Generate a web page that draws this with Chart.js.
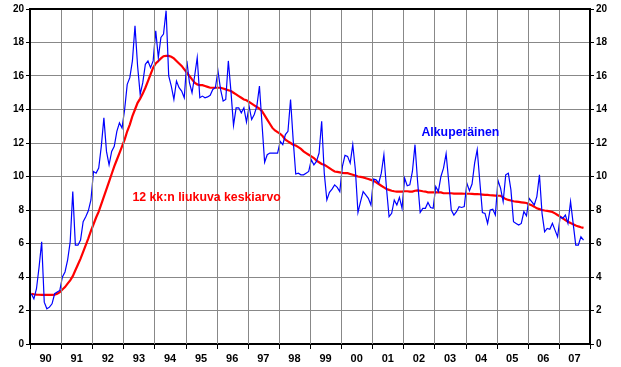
<!DOCTYPE html>
<html>
<head>
<meta charset="utf-8">
<script src="https://cdn.jsdelivr.net/npm/chart.js@4"></script>
<style>
  html, body { margin: 0; padding: 0; background: #fff; }
  #wrap { width: 621px; height: 367px; }
</style>
</head>
<body>
<div id="wrap"><canvas id="chart" width="621" height="367"></canvas></div>
<script>
// year labels on the x axis, one per 12 months
const years = ['90', '91', '92', '93', '94', '95', '96', '97', '98', '99',
  '00', '01', '02', '03', '04', '05', '06', '07'];

// monthly values Jan 1990 .. Oct 2007
const original = [
  3.0, 2.7, 3.3, 4.6, 6.1, 2.5, 2.1, 2.2, 2.4, 3.0, 3.1, 3.2,
  4.0, 4.3, 5.0, 6.1, 9.1, 5.9, 5.9, 6.2, 7.3, 7.6, 7.95, 8.6,
  10.3, 10.2, 10.5, 11.8, 13.5, 11.5, 10.7, 11.5, 11.8, 12.7, 13.2, 12.9,
  14.0, 15.5, 15.9, 16.9, 19.0, 16.6, 14.9, 15.6, 16.7, 16.9, 16.5, 16.9,
  18.7, 17.1, 18.3, 18.5, 19.9, 16.0, 15.4, 14.6, 15.7, 15.3, 15.1, 14.7,
  16.9, 15.6, 15.0, 16.0, 17.1, 14.7, 14.8, 14.7, 14.75, 14.85, 15.2, 15.3,
  16.3, 15.2, 14.5, 14.6, 16.9, 15.1, 13.05, 14.1, 14.1, 13.8, 14.1, 13.25,
  14.2, 13.4, 13.7, 14.2, 15.4, 13.1, 10.85, 11.3, 11.4, 11.4, 11.4, 11.4,
  12.1, 11.9, 12.5, 12.7, 14.6, 12.2, 10.15, 10.2, 10.1, 10.1, 10.2, 10.3,
  11.0, 10.7, 10.9, 11.4, 13.3, 10.2, 8.6, 9.05, 9.25, 9.5, 9.35, 9.1,
  10.6, 11.26, 11.2, 10.8, 11.9, 10.4, 7.85, 8.5, 9.1, 8.9, 8.7, 8.3,
  9.85, 9.8, 9.6, 10.2, 11.3, 9.3, 7.6, 7.8, 8.6, 8.3, 8.75, 8.1,
  9.9, 9.45, 9.5, 10.3, 11.9, 9.7, 7.85, 8.1, 8.1, 8.45, 8.15, 8.1,
  9.4, 9.1, 10.0, 10.5, 11.36, 9.7, 8.0, 7.7, 7.9, 8.2, 8.15, 8.2,
  9.6, 9.15, 9.55, 10.8, 11.6, 9.7, 7.85, 7.8, 7.2, 8.0, 8.05, 7.7,
  9.77, 9.3, 8.5, 10.1, 10.2, 9.2, 7.3, 7.2, 7.1, 7.2, 7.9, 7.65,
  8.7, 8.5, 8.3, 8.8, 10.1, 7.8, 6.7, 6.9, 6.85, 7.2, 6.8, 6.4,
  7.6, 7.5, 7.7, 7.2, 8.5, 7.2, 5.9, 5.9, 6.4, 6.2
];

// 12 month moving average
const movingAvg = [
  3.0, 2.97, 2.95, 2.94, 2.93, 2.93, 2.93, 2.93, 2.93, 2.95, 3.0, 3.1,
  3.25, 3.4, 3.6, 3.8, 4.05, 4.4, 4.75, 5.1, 5.5, 5.9, 6.3, 6.75,
  7.15, 7.55, 7.9, 8.35, 8.8, 9.25, 9.7, 10.15, 10.6, 11.0, 11.4, 11.8,
  12.2, 12.7, 13.1, 13.6, 14.0, 14.4, 14.65, 14.95, 15.3, 15.7, 16.1, 16.5,
  16.75, 16.9, 17.05, 17.18, 17.2, 17.2, 17.15, 17.05, 16.9, 16.75, 16.6, 16.4,
  16.2, 16.0, 15.8, 15.6, 15.5, 15.45, 15.45, 15.4, 15.35, 15.3, 15.3, 15.3,
  15.3, 15.3, 15.25, 15.2, 15.15, 15.1, 15.0, 14.9, 14.8, 14.7, 14.6, 14.55,
  14.45, 14.35, 14.25, 14.15, 14.05, 13.9, 13.65, 13.4, 13.15, 12.9, 12.75, 12.65,
  12.55, 12.4, 12.2, 12.1, 12.0, 11.9, 11.85, 11.75, 11.65, 11.5, 11.4, 11.3,
  11.2, 11.1, 10.95, 10.85, 10.75, 10.7, 10.6, 10.5, 10.4, 10.3, 10.28, 10.25,
  10.22, 10.2, 10.2, 10.15, 10.1, 10.05, 10.0, 9.98, 9.95, 9.9, 9.85, 9.8,
  9.75, 9.65, 9.55, 9.45, 9.35, 9.25, 9.2, 9.15, 9.12, 9.1, 9.1, 9.1,
  9.12, 9.12, 9.1, 9.1, 9.15, 9.17, 9.15, 9.12, 9.1, 9.05, 9.05, 9.05,
  9.05, 9.05, 9.05, 9.0, 9.0, 9.0, 9.0, 8.98, 8.98, 8.98, 8.98, 8.97,
  8.97, 8.97, 8.96, 8.95, 8.95, 8.94, 8.92, 8.9, 8.9, 8.88, 8.87, 8.86,
  8.85, 8.85, 8.75, 8.65, 8.6, 8.57, 8.52, 8.5, 8.48, 8.46, 8.44, 8.42,
  8.35, 8.28, 8.2, 8.1, 8.05, 8.0, 7.97, 7.95, 7.92, 7.88, 7.8, 7.7,
  7.6, 7.5, 7.4, 7.3, 7.22, 7.15, 7.08, 7.02, 6.97, 6.93
];

const seriesNames = ['Alkuperäinen', '12 kk:n liukuva keskiarvo'];

const FONT = 'Liberation Sans, Arial, sans-serif';
const GRID_COLOR = '#888888';

// points sit in the middle of each month slot on the hidden month axis
function toPoints(values) {
  return values.map((v, i) => ({x: i + 0.5, y: v}));
}

// series names written inside the plot, anchored in data units
const seriesLabels = [
  {text: seriesNames[0], color: '#0000ff', month: 151, value: 12.6},
  {text: seriesNames[1], color: '#ff0000', month: 39.5, value: 8.73}
];

function drawYearLines(chart) {
  // year separators and the tick marks under the axis, as 1px filled rects
  const area = chart.chartArea;
  const months = chart.scales.months;
  const ctx = chart.ctx;
  const top = Math.round(area.top);
  const bottom = Math.round(area.bottom);
  ctx.save();
  for (let k = 0; k <= years.length; k++) {
    const px = Math.round(months.getPixelForValue(k * 12));
    if (k > 0 && k < years.length) {
      ctx.fillStyle = GRID_COLOR;
      ctx.fillRect(px, top, 1, bottom - top);
    }
    ctx.fillStyle = '#000';
    ctx.fillRect(px, bottom, 1, 5);
  }
  ctx.restore();
}

const framePlugin = {
  id: 'yearFrame',
  afterDraw(chart) {
    drawYearLines(chart);

    const ctx = chart.ctx;
    const area = chart.chartArea;
    const xScale = chart.scales.months;
    const yScale = chart.scales.y;
    ctx.save();
    ctx.font = 'bold 12.3px ' + FONT;
    ctx.textAlign = 'left';
    ctx.textBaseline = 'middle';
    seriesLabels.forEach(l => {
      ctx.fillStyle = l.color;
      ctx.fillText(l.text, xScale.getPixelForValue(l.month), yScale.getPixelForValue(l.value));
    });

    // closing line along the top of the plot
    ctx.strokeStyle = '#000';
    ctx.lineWidth = 2;
    ctx.beginPath();
    ctx.moveTo(area.left - 1, area.top);
    ctx.lineTo(area.right + 1, area.top);
    ctx.stroke();
    ctx.restore();
  }
};

const yTicks = {
  stepSize: 2,
  color: '#000',
  padding: 2,
  font: {family: FONT, size: 10, weight: 'bold'}
};

new Chart(document.getElementById('chart').getContext('2d'), {
  type: 'line',
  data: {
    labels: years,
    datasets: [
      {
        label: seriesNames[0],
        data: toPoints(original),
        xAxisID: 'months',
        borderColor: '#0000ff',
        borderWidth: 1.2,
        pointRadius: 0,
        tension: 0
      },
      {
        label: seriesNames[1],
        data: toPoints(movingAvg),
        xAxisID: 'months',
        borderColor: '#ff0000',
        borderWidth: 2.2,
        pointRadius: 0,
        tension: 0
      }
    ]
  },
  options: {
    responsive: false,
    animation: false,
    layout: {
      padding: {top: 9, left: 0, right: 0, bottom: 0}
    },
    scales: {
      // visible year axis: labels centred in each year
      x: {
        type: 'category',
        position: 'bottom',
        offset: true,
        afterFit: scale => { scale.height = 23; },
        border: {color: '#000', width: 2},
        grid: {display: false},
        ticks: {
          autoSkip: false,
          maxRotation: 0,
          color: '#000',
          padding: 0,
          font: {family: FONT, size: 11, weight: 'bold'}
        }
      },
      // hidden month axis the lines are plotted on
      months: {
        type: 'linear',
        axis: 'x',
        display: false,
        min: 0,
        max: years.length * 12
      },
      y: {
        position: 'left',
        min: 0,
        max: 20,
        afterFit: scale => { scale.width = 30; },
        border: {color: '#000', width: 2},
        grid: {color: GRID_COLOR, tickColor: '#000', tickLength: 4, lineWidth: 1},
        ticks: yTicks
      },
      y2: {
        position: 'right',
        min: 0,
        max: 20,
        afterFit: scale => { scale.width = 31; },
        border: {color: '#000', width: 2},
        grid: {drawOnChartArea: false, tickColor: '#000', tickLength: 4},
        ticks: yTicks
      }
    },
    plugins: {
      legend: {display: false},
      tooltip: {enabled: false}
    }
  },
  plugins: [framePlugin]
});
</script>
</body>
</html>
